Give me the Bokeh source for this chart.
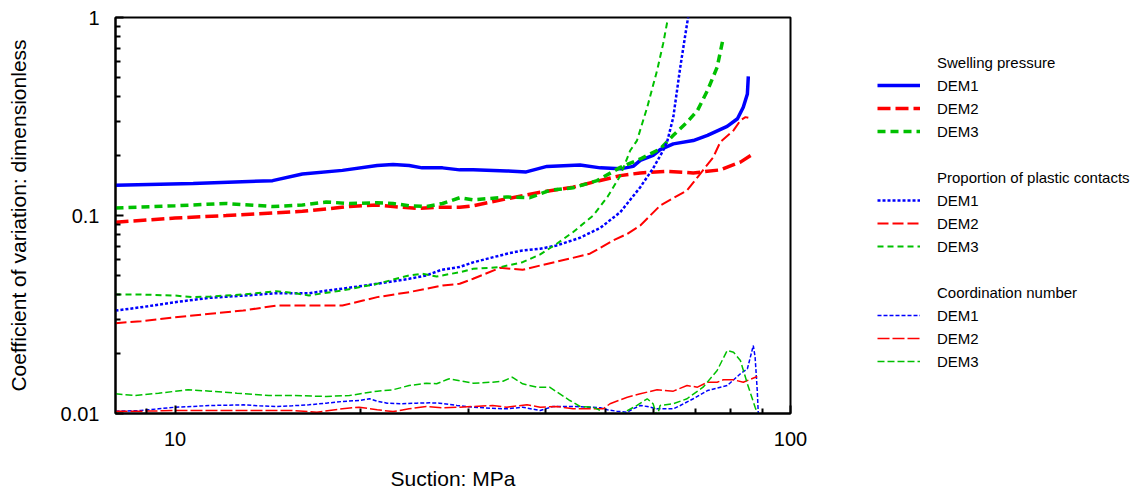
from bokeh.plotting import figure
from bokeh.models import Range1d, FixedTicker, CustomJSTickFormatter, Legend, LegendItem
from bokeh.embed import file_html
from bokeh.resources import INLINE

# ---------------- data (suction MPa, coefficient of variation) ----------------
sw1_x = [8.0, 10.7, 14.4, 16.1, 18.7, 21.3, 22.6, 24.0, 25.2, 27.2, 29.0, 30.5, 34.6, 37.2, 40.2,
         45.5, 49.1, 52.9, 55.5, 57.0, 59.8, 61.4, 64.5, 69.5, 73.3, 78.9, 82.0, 83.8, 85.1, 85.4]
sw1_y = [0.142, 0.145, 0.150, 0.162, 0.169, 0.179, 0.181, 0.179, 0.174, 0.174, 0.170, 0.170, 0.168,
         0.166, 0.177, 0.180, 0.174, 0.172, 0.177, 0.190, 0.201, 0.215, 0.230, 0.239, 0.254, 0.282,
         0.308, 0.352, 0.411, 0.504]

sw2_x = [8.0, 10.0, 12.1, 14.4, 16.1, 17.6, 19.2, 21.3, 22.6, 24.9, 26.6, 29.0, 30.5, 34.6, 39.2,
         44.3, 48.5, 52.9, 57.0, 63.1, 69.5, 76.9, 82.9, 87.0]
sw2_y = [0.0925, 0.097, 0.100, 0.103, 0.105, 0.108, 0.111, 0.113, 0.111, 0.1085, 0.110, 0.110,
         0.112, 0.1215, 0.131, 0.139, 0.149, 0.159, 0.164, 0.167, 0.164, 0.170, 0.186, 0.205]

sw3_x = [8.0, 10.0, 12.1, 14.4, 16.1, 17.6, 19.2, 21.3, 22.6, 24.0, 25.6, 27.2, 29.0, 30.5, 34.6,
         37.7, 40.6, 44.3, 48.5, 52.9, 57.0, 61.4, 64.5, 67.9, 70.6, 73.3, 76.0, 77.8]
sw3_y = [0.109, 0.112, 0.115, 0.111, 0.113, 0.117, 0.115, 0.116, 0.115, 0.112, 0.111, 0.115, 0.123,
         0.120, 0.124, 0.123, 0.134, 0.138, 0.150, 0.175, 0.193, 0.217, 0.254, 0.296, 0.339, 0.428,
         0.561, 0.795]

pc1_x = [8.0, 8.8, 10.0, 11.4, 12.9, 14.6, 16.5, 17.4, 18.7, 21.3, 24.0, 25.6, 27.0, 29.0, 30.5,
         34.6, 36.7, 39.2, 41.7, 45.5, 49.1, 52.9, 57.0, 59.8, 62.1, 63.1, 64.5, 66.2, 67.5, 68.2]
pc1_y = [0.0331, 0.0344, 0.0365, 0.0384, 0.0394, 0.0405, 0.0405, 0.0415, 0.0427, 0.0452, 0.0479,
         0.0498, 0.0530, 0.0550, 0.0580, 0.0641, 0.0666, 0.0679, 0.0706, 0.0772, 0.0867, 0.104,
         0.139, 0.173, 0.213, 0.239, 0.314, 0.561, 0.827, 1.01]

pc2_x = [8.0, 8.8, 10.0, 11.4, 12.9, 14.6, 16.5, 18.7, 20.2, 21.3, 24.0, 27.2, 29.0, 30.5, 33.7,
         36.7, 39.2, 44.3, 47.2, 51.5, 54.3, 57.0, 61.4, 67.9, 70.6, 74.9, 76.9, 80.8, 82.9, 84.5, 85.4]
pc2_y = [0.0286, 0.0292, 0.0306, 0.0319, 0.0331, 0.0351, 0.0351, 0.0351, 0.0372, 0.0387, 0.041,
         0.0443, 0.0452, 0.0479, 0.0544, 0.0532, 0.0559, 0.0611, 0.0641, 0.0748, 0.0808, 0.089,
         0.1123, 0.1338, 0.156, 0.197, 0.235, 0.269, 0.302, 0.314, 0.3115]

pc3_x = [8.0, 8.8, 10.0, 10.7, 11.4, 12.9, 14.6, 15.7, 16.5, 17.4, 18.7, 21.3, 24.0, 25.2, 26.6,
         29.0, 30.5, 33.7, 36.7, 39.2, 41.7, 44.3, 47.8, 50.4, 52.9, 54.9, 56.3, 58.5, 60.7, 62.1, 63.2]
pc3_y = [0.0399, 0.0399, 0.0394, 0.0387, 0.0390, 0.0399, 0.0415, 0.0405, 0.0394, 0.0405, 0.0418,
         0.0452, 0.0498, 0.0508, 0.0492, 0.0517, 0.0538, 0.0548, 0.0581, 0.0636, 0.072, 0.0823,
         0.100, 0.124, 0.159, 0.213, 0.239, 0.352, 0.540, 0.739, 0.988]

cn1_x = [8.0, 8.8, 9.4, 10.0, 10.7, 11.4, 12.1, 12.9, 13.7, 14.6, 15.5, 16.5, 17.6, 18.7, 19.9,
         20.7, 21.3, 22.1, 23.2, 24.7, 25.9, 26.9, 28.7, 30.5, 32.5, 34.6, 36.7, 39.2, 41.1, 44.3,
         47.2, 49.1, 50.4, 52.2, 54.3, 55.5, 57.0, 58.5, 60.7, 63.1, 64.5, 66.2, 69.5, 73.3, 78.9,
         82.9, 85.1, 86.6, 87.0, 87.6, 88.3, 88.7]
cn1_y = [0.01027, 0.01035, 0.01056, 0.01076, 0.01085, 0.01098, 0.01101, 0.01106, 0.01094, 0.01085,
         0.01094, 0.01106, 0.01128, 0.01150, 0.01163, 0.01187, 0.01154, 0.01128, 0.01120, 0.01128,
         0.01132, 0.01128, 0.01098, 0.01076, 0.01063, 0.01056, 0.01076, 0.01035, 0.01085, 0.01085,
         0.01076, 0.01069, 0.01044, 0.01027, 0.01015, 0.01056, 0.01098, 0.01085, 0.01056, 0.01056,
         0.01056, 0.01098, 0.01187, 0.01306, 0.01384, 0.01587, 0.01682, 0.02081, 0.02205, 0.01925,
         0.01306, 0.00958]

cn2_x = [8.0, 8.8, 10.0, 11.4, 12.9, 14.6, 15.5, 17.0, 18.7, 19.9, 21.3, 22.6, 24.0, 25.6, 27.2,
         29.0, 30.5, 32.8, 34.6, 37.3, 39.2, 41.7, 44.3, 47.2, 49.6, 50.9, 54.3, 57.0, 60.7, 64.5,
         67.9, 70.6, 73.3, 76.0, 77.8, 80.8, 83.8, 88.3]
cn2_y = [0.01027, 0.01027, 0.01035, 0.01035, 0.01035, 0.01035, 0.01035, 0.01015, 0.01056, 0.01076,
         0.01044, 0.01023, 0.01056, 0.01085, 0.01069, 0.01076, 0.01085, 0.01098, 0.01076, 0.01106,
         0.01076, 0.01085, 0.01056, 0.01056, 0.01056, 0.01120, 0.01209, 0.01258, 0.01318, 0.01297,
         0.01384, 0.01358, 0.01439, 0.01439, 0.01480, 0.01480, 0.01439, 0.01538]

cn3_x = [8.0, 8.6, 9.4, 10.5, 11.4, 12.6, 14.2, 15.5, 17.6, 19.2, 21.3, 22.6, 24.0, 25.6, 26.6,
         27.6, 27.9, 30.5, 32.8, 34.1, 35.3, 36.7, 38.7, 40.6, 43.8, 45.5, 47.8, 49.1, 49.6, 51.9,
         54.3, 56.3, 58.5, 59.8, 60.7, 61.4, 64.5, 67.9, 72.1, 76.0, 78.9, 80.8, 82.9, 85.1, 87.6, 88.7]
cn3_y = [0.01258, 0.01233, 0.01266, 0.01318, 0.01297, 0.01266, 0.01233, 0.01233, 0.01219, 0.01233,
         0.01297, 0.01318, 0.01384, 0.01422, 0.01413, 0.01480, 0.01497, 0.01422, 0.01439, 0.01456,
         0.01525, 0.01413, 0.01358, 0.01358, 0.01163, 0.01085, 0.01076, 0.01035, 0.00966, 0.0095,
         0.01035, 0.01098, 0.01187, 0.01120, 0.00966, 0.01098, 0.01120, 0.01187, 0.01358, 0.01649,
         0.02081, 0.02040, 0.01853, 0.01413, 0.01076, 0.00966]

x_major = [10, 100]
x_minor = [9, 20, 30, 40, 50, 60, 70, 80, 90]
y_major = [0.01, 0.1, 1]
y_minor = [0.02, 0.03, 0.04, 0.05, 0.06, 0.07, 0.08, 0.09, 0.2, 0.3, 0.4, 0.5, 0.6, 0.7, 0.8, 0.9]

group_titles = ["Swelling pressure", "Proportion of plastic contacts", "Coordination number"]
model_names = ["DEM1", "DEM2", "DEM3"]

BLUE, RED, GREEN = "#0000ff", "#ff0000", "#00c000"
FONT = "Liberation Sans"

series = [
    (sw1_x, sw1_y, dict(line_color=BLUE, line_width=3.5, line_dash="solid")),
    (sw2_x, sw2_y, dict(line_color=RED, line_width=3.5, line_dash="13 5")),
    (sw3_x, sw3_y, dict(line_color=GREEN, line_width=3.5, line_dash="8 5")),
    (pc1_x, pc1_y, dict(line_color=BLUE, line_width=2.5, line_dash="3 2")),
    (pc2_x, pc2_y, dict(line_color=RED, line_width=2, line_dash="11 4")),
    (pc3_x, pc3_y, dict(line_color=GREEN, line_width=2, line_dash="6 4")),
    (cn1_x, cn1_y, dict(line_color=BLUE, line_width=1.5, line_dash="4 2")),
    (cn2_x, cn2_y, dict(line_color=RED, line_width=1.5, line_dash="12 3")),
    (cn3_x, cn3_y, dict(line_color=GREEN, line_width=1.5, line_dash="7 3")),
]

# ---------------- main plot ----------------
p = figure(frame_width=675, frame_height=396, x_axis_type="log", y_axis_type="log",
           x_range=Range1d(8, 100), y_range=Range1d(0.01, 1),
           toolbar_location=None, output_backend="svg",
           min_border_left=115, min_border_top=17, min_border_bottom=77, min_border_right=0)
p.grid.visible = False
p.outline_line_color = "black"
p.outline_line_width = 2

renderers = []
for xs, ys, st in series:
    renderers.append(p.line(x=xs, y=ys, **st))

p.xaxis.ticker = FixedTicker(ticks=x_major, minor_ticks=x_minor)
p.yaxis.ticker = FixedTicker(ticks=y_major, minor_ticks=y_minor)
fmt = "return String(tick);"
p.xaxis.formatter = CustomJSTickFormatter(code=fmt)
p.yaxis.formatter = CustomJSTickFormatter(code=fmt)

for ax in (p.xaxis[0], p.yaxis[0]):
    ax.axis_line_color = "black"
    ax.axis_line_width = 2
    ax.major_tick_in = 8
    ax.major_tick_out = 0
    ax.minor_tick_in = 5
    ax.minor_tick_out = 0
    ax.major_tick_line_color = "black"
    ax.major_tick_line_width = 2
    ax.minor_tick_line_color = "black"
    ax.minor_tick_line_width = 2
    ax.major_label_text_font = FONT
    ax.major_label_text_font_size = "20px"
    ax.major_label_text_color = "black"
    ax.axis_label_text_font = FONT
    ax.axis_label_text_font_size = "21px"
    ax.axis_label_text_font_style = "normal"
    ax.axis_label_text_color = "black"

p.xaxis.axis_label = "Suction: MPa"
p.yaxis.axis_label = "Coefficient of variation: dimensionless"
p.xaxis.major_label_standoff = 18
p.yaxis.major_label_standoff = 16
p.xaxis.axis_label_standoff = 18
p.yaxis.axis_label_standoff = 28

# ---------------- legend (grouped, right of the frame) ----------------
items = []
for g in range(3):
    blank = p.line(x=[], y=[], line_alpha=0)
    items.append(LegendItem(label=group_titles[g], renderers=[blank]))
    for k in range(3):
        items.append(LegendItem(label=model_names[k], renderers=[renderers[g * 3 + k]]))
    if g < 2:
        sp = p.line(x=[], y=[], line_alpha=0)
        items.append(LegendItem(label=" ", renderers=[sp]))

legend = Legend(items=items, location=(87, 42), padding=0, margin=0, spacing=3,
                glyph_width=43, glyph_height=20, label_height=20, label_standoff=17,
                background_fill_alpha=0, border_line_color=None,
                label_text_font=FONT, label_text_font_size="15px", label_text_color="black")
p.add_layout(legend, "right")

open("out.html", "w").write(file_html(p, INLINE))
